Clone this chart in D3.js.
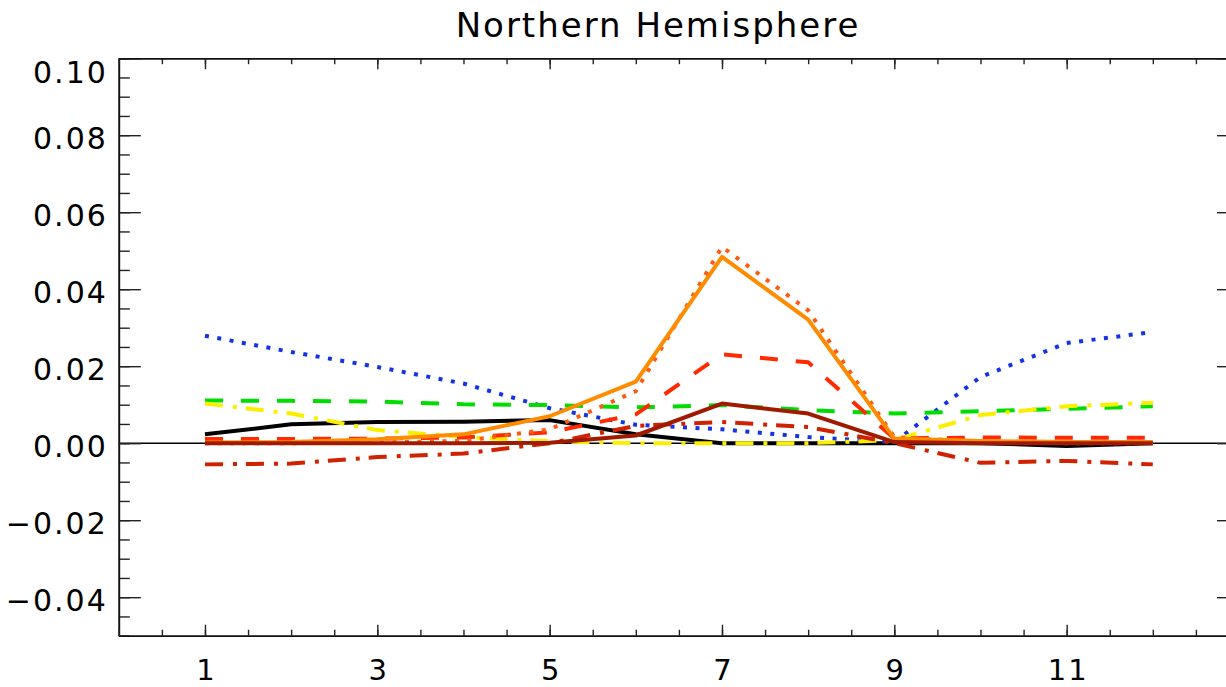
<!DOCTYPE html>
<html>
<head>
<meta charset="utf-8">
<script src="https://cdn.jsdelivr.net/npm/d3@7"></script>
<style>
  body { margin: 0; background: #ffffff; }
  svg { display: block; }
</style>
</head>
<body>
<div id="chart"></div>
<script>
// Monthly values
const months = [1, 2, 3, 4, 5, 6, 7, 8, 9, 10, 11, 12];

const blackSolid   = [0.0023, 0.0049, 0.0055, 0.0056, 0.0060, 0.0023, 0.0000, 0.0000, 0.0000, 0.0000, -0.0007, 0.0000];
const blueDotted   = [0.0279, 0.0237, 0.0198, 0.0155, 0.0091, 0.0048, 0.0036, 0.0016, 0.0003, 0.0172, 0.0260, 0.0289];
const greenDashed  = [0.0111, 0.0110, 0.0108, 0.0101, 0.0099, 0.0093, 0.0099, 0.0086, 0.0077, 0.0083, 0.0089, 0.0096];
const yellowDashDot = [0.0103, 0.0077, 0.0034, 0.0016, 0.0005, 0.0000, 0.0000, 0.0000, 0.0008, 0.0073, 0.0096, 0.0105];
const redDashed    = [0.0011, 0.0011, 0.0012, 0.0015, 0.0028, 0.0075, 0.0231, 0.0210, 0.0012, 0.0015, 0.0014, 0.0014];
const darkDashDot  = [-0.0055, -0.0053, -0.0036, -0.0027, 0.0000, 0.0045, 0.0055, 0.0042, 0.0000, -0.0051, -0.0046, -0.0055];
const orangeDotted = [0.0000, 0.0000, 0.0002, 0.0006, 0.0036, 0.0135, 0.0510, 0.0345, 0.0016, 0.0003, 0.0000, 0.0000];
const orangeSolid  = [0.0002, 0.0003, 0.0010, 0.0023, 0.0070, 0.0160, 0.0484, 0.0321, 0.0012, 0.0006, 0.0003, 0.0003];
const maroonSolid  = [0.0000, 0.0000, 0.0000, 0.0000, 0.0001, 0.0020, 0.0103, 0.0077, 0.0003, 0.0000, 0.0000, 0.0000];

// Axis ticks
const xMajorTicks = [1, 3, 5, 7, 9, 11];
const xMinorTicks = d3.range(0, 13.01, 0.5);
const yMajorTicks = [-0.04, -0.02, 0.00, 0.02, 0.04, 0.06, 0.08, 0.10];
const yMinorTicks = d3.range(-0.05, 0.1001, 0.005);

const titleText = 'Northern Hemisphere';

// Series table (draw order = stacking order)
const series = [
  { values: blackSolid,    color: '#000000', dash: null },
  { values: blueDotted,    color: '#1234e6', dash: '4,8.5' },
  { values: greenDashed,   color: '#00dd00', dash: '18,18' },
  { values: yellowDashDot, color: '#fbef00', dash: '18,10,4,9' },
  { values: redDashed,     color: '#ff2a00', dash: '18,18' },
  { values: darkDashDot,   color: '#d02200', dash: '18,10,4,9' },
  { values: orangeDotted,  color: '#ff5a14', dash: '4,8.5' },
  { values: orangeSolid,   color: '#ff8c00', dash: null },
  { values: maroonSolid,   color: '#a01a00', dash: null }
];

const W = 1226, H = 687;
const plot = { left: 118.8, right: 1239, top: 58.2, bottom: 635.7 };

const svg = d3.select('#chart')
  .append('svg')
  .attr('width', W)
  .attr('height', H);

svg.append('rect')
  .attr('width', W)
  .attr('height', H)
  .attr('fill', '#ffffff');

const x = d3.scaleLinear().domain([0, 13]).range([plot.left, plot.right]);
const y = d3.scaleLinear().domain([-0.05, 0.10]).range([plot.bottom, plot.top]);

const fontFamily = '"DejaVu Sans", sans-serif';

// Zero line
svg.append('line')
  .attr('x1', x(0))
  .attr('x2', x(13))
  .attr('y1', y(0))
  .attr('y2', y(0))
  .attr('stroke', '#000')
  .attr('stroke-width', 1.5);

// Lines
const line = d3.line()
  .x((d, i) => x(months[i]))
  .y(d => y(d));

svg.selectAll('.series')
  .data(series)
  .enter()
  .append('path')
  .attr('class', 'series')
  .attr('d', d => line(d.values))
  .attr('fill', 'none')
  .attr('stroke', d => d.color)
  .attr('stroke-width', 4)
  .attr('stroke-linejoin', 'round')
  .attr('stroke-dasharray', d => d.dash);

// Axes helper
function styleAxis(g) {
  g.selectAll('path.domain')
    .attr('stroke', '#111')
    .attr('stroke-width', 1.6);
  g.selectAll('.tick line')
    .attr('stroke', '#222')
    .attr('stroke-width', 1.4);
  g.selectAll('.tick text')
    .attr('fill', '#000')
    .style('font-family', fontFamily)
    .style('font-size', '30px')
    .style('letter-spacing', '2px');
}

// Left axis
svg.append('g')
  .attr('transform', `translate(${plot.left},0)`)
  .call(d3.axisLeft(y).tickValues(yMinorTicks).tickSize(-11).tickSizeOuter(0).tickFormat(''))
  .call(styleAxis);

const yAxis = svg.append('g')
  .attr('transform', `translate(${plot.left},0)`)
  .call(d3.axisLeft(y).tickValues(yMajorTicks).tickSize(-22).tickSizeOuter(0)
    .tickPadding(11)
    .tickFormat(d => d3.format('.2f')(d).replace('-', '\u2212')))
  .call(styleAxis);

yAxis.selectAll('.tick text')
  .attr('dy', null)
  .attr('y', d => d >= 0.0999 ? 24 : 13.5);

// Right axis
svg.append('g')
  .attr('transform', `translate(${plot.right},0)`)
  .call(d3.axisRight(y).tickValues(yMinorTicks).tickSize(-11).tickSizeOuter(0).tickFormat(''))
  .call(styleAxis);
svg.append('g')
  .attr('transform', `translate(${plot.right},0)`)
  .call(d3.axisRight(y).tickValues(yMajorTicks).tickSize(-22).tickSizeOuter(0).tickFormat(''))
  .call(styleAxis);

// Bottom axis
svg.append('g')
  .attr('transform', `translate(0,${plot.bottom})`)
  .call(d3.axisBottom(x).tickValues(xMinorTicks).tickSize(-6).tickSizeOuter(0).tickFormat(''))
  .call(styleAxis);

const xAxis = svg.append('g')
  .attr('transform', `translate(0,${plot.bottom})`)
  .call(d3.axisBottom(x).tickValues(xMajorTicks).tickSize(-11).tickSizeOuter(0).tickFormat(d3.format('d')))
  .call(styleAxis);

xAxis.selectAll('.tick text')
  .attr('dy', null)
  .attr('y', 44)
  .attr('dx', 1)
  .style('font-size', '29px');

// Top axis
svg.append('g')
  .attr('transform', `translate(0,${plot.top})`)
  .call(d3.axisTop(x).tickValues(xMinorTicks).tickSize(-6).tickSizeOuter(0).tickFormat(''))
  .call(styleAxis);
svg.append('g')
  .attr('transform', `translate(0,${plot.top})`)
  .call(d3.axisTop(x).tickValues(xMajorTicks).tickSize(-11).tickSizeOuter(0).tickFormat(''))
  .call(styleAxis);

// Title
svg.append('text')
  .attr('x', 658)
  .attr('y', 37)
  .attr('text-anchor', 'middle')
  .style('font-family', fontFamily)
  .style('font-size', '34px')
  .style('letter-spacing', '2px')
  .attr('fill', '#000')
  .text(titleText);
</script>
</body>
</html>
